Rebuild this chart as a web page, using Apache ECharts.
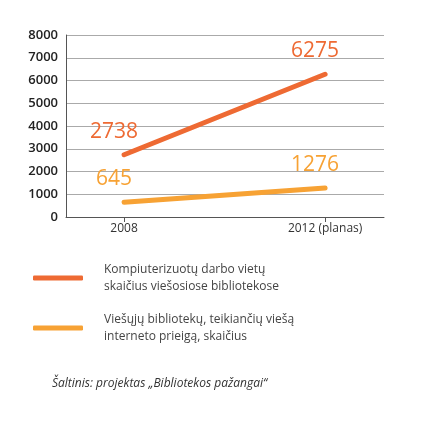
<!DOCTYPE html><html><head><meta charset="utf-8"><script src="https://cdn.jsdelivr.net/npm/echarts@6/dist/echarts.min.js"></script></head><body style="margin:0;background:#fff"><div id="c" style="width:422px;height:422px"></div><script>
const categories=['2008','2012 (planas)'];
const seriesNames=['Kompiuterizuotų darbo vietų\nskaičius viešosiose bibliotekose','Viešųjų bibliotekų, teikiančių viešą\ninterneto prieigą, skaičius'];
const computers=[2738,6275];
const libraries=[645,1276];
const yTicks=[0,1000,2000,3000,4000,5000,6000,7000,8000];
const colors=['#ee6a33','#f7a234'];
const ch=echarts.init(document.getElementById('c'));
const mk=(v)=>v.map((y,i)=>[i,y]);
const lbl=(c)=>({show:true,position:'top',distance:12,offset:[-10,0],color:c,fontSize:21,fontFamily:'Open Sans',formatter:p=>p.value[1]});
ch.setOption({
animation:false,
grid:{left:66,right:38,top:35,bottom:205},
xAxis:{type:'value',min:-0.289,max:1.293,splitLine:{show:false},
 axisLine:{onZero:false,lineStyle:{color:'#555'}},
 axisTick:{customValues:[0,1],length:5,lineStyle:{color:'#555'}},
 axisLabel:{customValues:[0,1],formatter:v=>categories[v],color:'#333',fontSize:12,fontFamily:'Open Sans',margin:6}},
yAxis:{type:'value',min:yTicks[0],max:yTicks[yTicks.length-1],interval:1000,
 axisLine:{show:true,onZero:false,lineStyle:{color:'#555'}},axisTick:{show:false},
 splitLine:{lineStyle:{color:'#aaa'}},
 axisLabel:{color:'#222',fontSize:13,fontWeight:600,fontFamily:'Open Sans',margin:8,formatter:v=>String(v)}},
legend:{orient:'vertical',left:28,top:256,itemWidth:50,itemHeight:5,itemGap:16,icon:'roundRect',
 textStyle:{color:'#444',fontSize:12,fontFamily:'Open Sans',lineHeight:17,padding:[0,0,0,16]},
 data:seriesNames},
graphic:[{type:'text',left:52,top:378,style:{text:'Šaltinis: projektas „Bibliotekos pažangai“',font:'italic 12px "Open Sans"',fill:'#333'}}],
series:[
{name:seriesNames[0],type:'line',data:mk(computers),symbol:'circle',symbolSize:1,showSymbol:true,lineStyle:{width:5,color:colors[0],cap:'round'},itemStyle:{color:colors[0]},label:lbl(colors[0])},
{name:seriesNames[1],type:'line',data:mk(libraries),symbol:'circle',symbolSize:1,showSymbol:true,lineStyle:{width:5,color:colors[1],cap:'round'},itemStyle:{color:colors[1]},label:lbl(colors[1])}
]});
</script></body></html>
